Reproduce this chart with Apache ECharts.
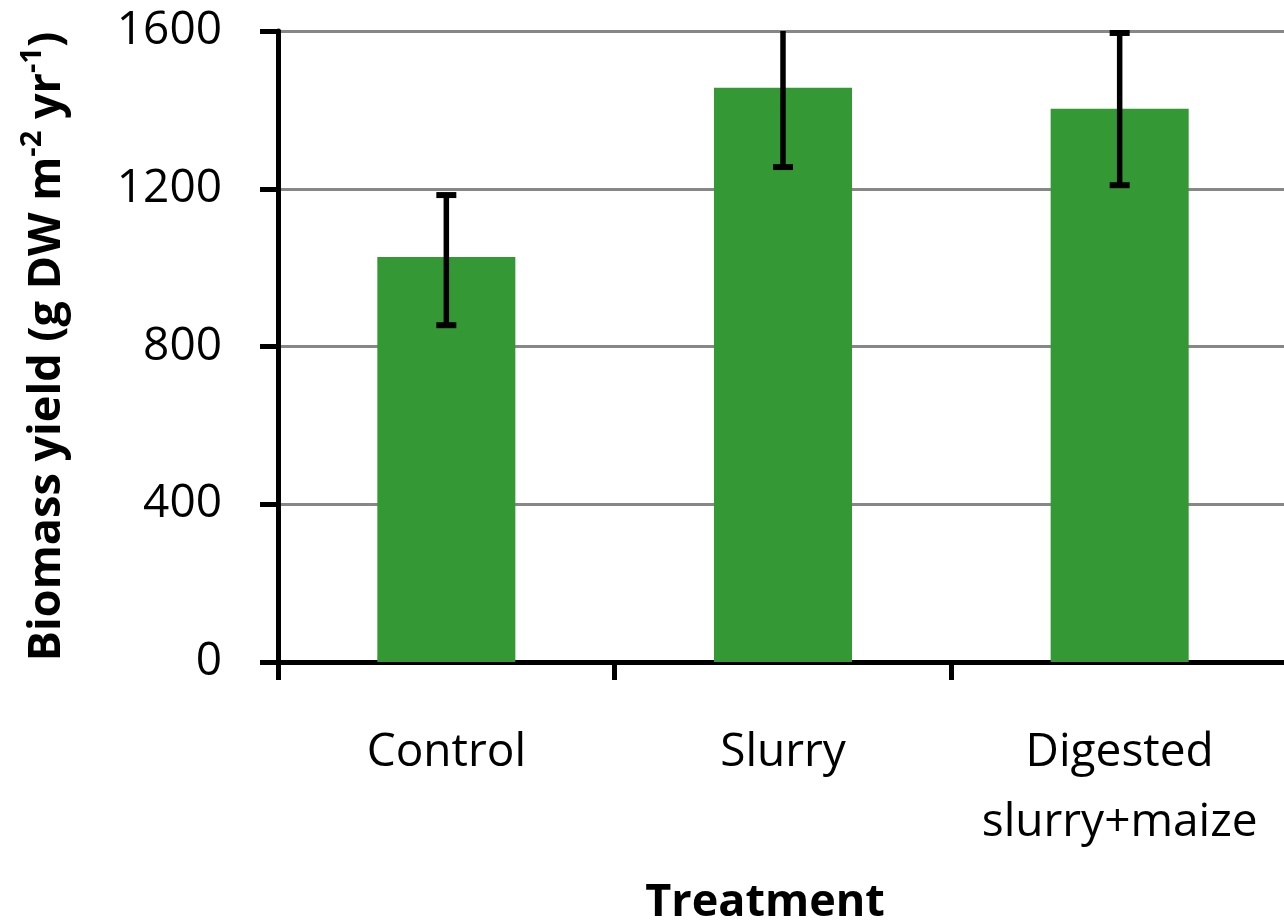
<!DOCTYPE html>
<html>
<head>
<meta charset="utf-8">
<script src="https://cdn.jsdelivr.net/npm/echarts@6/dist/echarts.min.js"></script>
<style>html,body{margin:0;padding:0;background:#fff}#c{width:1284px;height:920px}</style>
</head>
<body>
<div id="c"></div>
<script>
var categories = ['Control', 'Slurry', 'Digested\nslurry+maize'];
var means = [1027, 1456, 1403];
var errLow = [854, 1255, 1209];
var errHigh = [1184, 1657, 1595];
var yTicks = [0, 400, 800, 1200, 1600];

var chart = echarts.init(document.getElementById('c'));
var FONT = '"Open Sans", "Liberation Sans", sans-serif';
chart.setOption({
  animation: false,
  grid: { left: 278, right: -4, top: 31, bottom: 258, containLabel: false, outerBoundsMode: 'none' },
  xAxis: {
    type: 'category',
    data: categories,
    boundaryGap: true,
    axisLine: { show: true, lineStyle: { color: '#000', width: 5 } },
    axisTick: { show: true, length: 18, lineStyle: { color: '#000', width: 5 } },
    axisLabel: { color: '#000', fontSize: 46, fontFamily: FONT, margin: 56, lineHeight: 70, interval: 0 },
    name: 'Treatment',
    nameLocation: 'middle',
    nameGap: 219,
    nameTextStyle: { color: '#000', fontSize: 45, fontWeight: 'bold', fontFamily: FONT, padding: [0, 36, 0, 0] }
  },
  yAxis: {
    type: 'value',
    min: yTicks[0],
    max: yTicks[yTicks.length - 1],
    interval: 400,
    axisLine: { show: true, lineStyle: { color: '#000', width: 5 } },
    axisTick: { show: true, length: 18, lineStyle: { color: '#000', width: 5 } },
    axisLabel: { color: '#000', fontSize: 46, fontFamily: FONT, margin: 56, formatter: function (v) { return String(v); } },
    splitLine: { show: true, lineStyle: { color: '#878787', width: 3 } },
    name: '{b|Biomass yield (g DW m}{s|-2}{b| yr}{s|-1}{b|)}',
    nameLocation: 'middle',
    nameRotate: 90,
    nameGap: 208,
    nameTextStyle: {
      rich: {
        b: { color: '#000', fontSize: 45, fontWeight: 'bold', fontFamily: FONT, verticalAlign: 'bottom', lineHeight: 52 },
        s: { color: '#000', fontSize: 29, fontWeight: 'bold', fontFamily: FONT, verticalAlign: 'top', lineHeight: 52, padding: [0, 0, 24, 0] }
      }
    }
  },
  series: [
    {
      type: 'bar',
      data: means,
      barWidth: '41%',
      itemStyle: { color: '#349934' }
    },
    {
      type: 'custom',
      data: categories.map(function (c, i) { return [i, errLow[i], errHigh[i]]; }),
      renderItem: function (params, api) {
        var x = api.coord([api.value(0), 0])[0];
        var lo = api.coord([api.value(0), api.value(1)])[1];
        var hiRaw = api.coord([api.value(0), api.value(2)])[1];
        var top = params.coordSys.y;
        var hi = Math.max(hiRaw, top);
        var style = { stroke: '#000', lineWidth: 5.5 };
        var children = [
          { type: 'line', shape: { x1: x, y1: lo, x2: x, y2: hi }, style: style },
          { type: 'line', shape: { x1: x - 10, y1: lo, x2: x + 10, y2: lo }, style: { stroke: '#000', lineWidth: 6 } }
        ];
        if (hiRaw >= top) {
          children.push({ type: 'line', shape: { x1: x - 10, y1: hi, x2: x + 10, y2: hi }, style: { stroke: '#000', lineWidth: 6 } });
        }
        return { type: 'group', children: children };
      },
      z: 10
    }
  ]
});
</script>
</body>
</html>
